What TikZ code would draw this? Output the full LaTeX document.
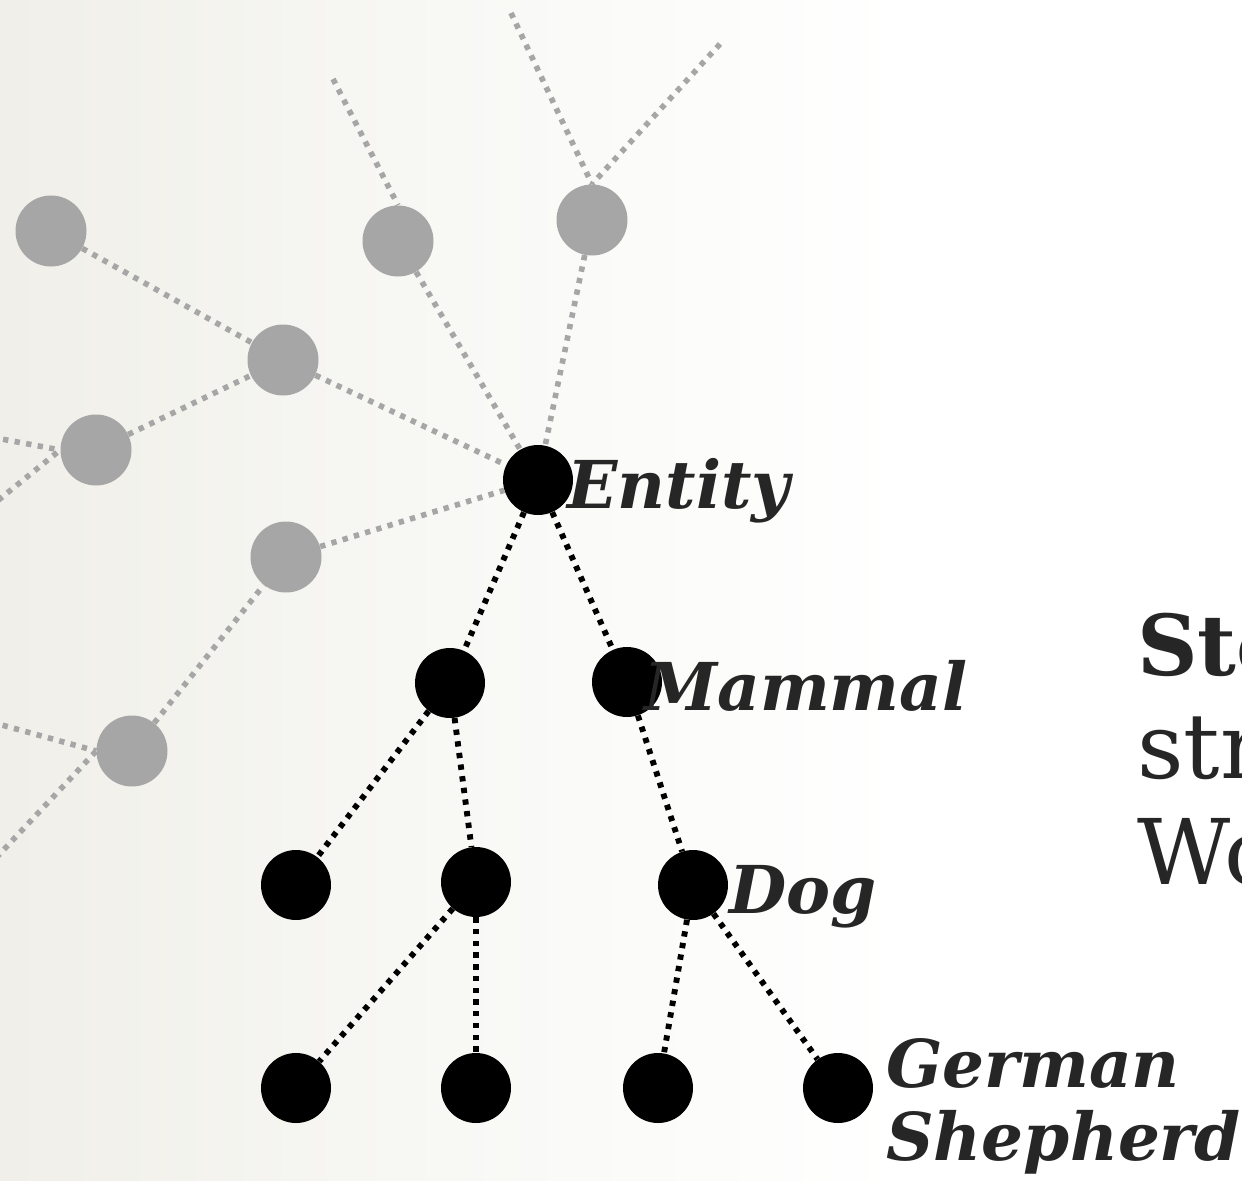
\documentclass[tikz,border=0pt]{standalone}
\usepackage{fontspec}
\setmainfont{DejaVu Serif}
\definecolor{bgleft}{HTML}{F0EFE9}
\definecolor{bgmid}{HTML}{F8F8F5}
\definecolor{faded}{HTML}{A6A6A6}
\definecolor{ink}{HTML}{262626}
\tikzset{
  faint/.style={circle, fill=faded, minimum size=53.25pt, inner sep=0pt},
  solid node/.style={circle, fill=black, minimum size=52.5pt, inner sep=0pt},
  faint link/.style={draw=faded, line width=4.2pt, dash pattern=on 4pt off 4.8pt},
  solid link/.style={draw=black, line width=4.4pt, dash pattern=on 4pt off 4.8pt},
  term/.style={anchor=base west, inner sep=0pt, text=ink,
    font=\fontsize{49.5pt}{54.75pt}\selectfont\bfseries\itshape},
  side/.style={anchor=base west, inner sep=0pt, text=ink}
}
\begin{document}
\begin{tikzpicture}[x=0.75pt, y=-0.75pt]
\useasboundingbox (0,0) rectangle (1242,1181);
\clip (0,0) rectangle (1242,1181);
% background wash
\fill[white] (0,0) rectangle (1242,1181);
\shade[left color=bgleft, right color=white, middle color=bgmid] (0,0) rectangle (900,1181);

% loose ends of the faint outer branches
\coordinate (e1) at (-20,435);
\coordinate (e2) at (-20,515);
\coordinate (e3) at (-20,719);
\coordinate (e4) at (-20,875);
\coordinate (e5) at (333,79);
\coordinate (e6) at (511,13);
\coordinate (e7) at (720,44);

% faint outer nodes
\node[faint] (g1) at (51,231) {};
\node[faint] (g2) at (398,241) {};
\node[faint] (g3) at (592,220) {};
\node[faint] (g4) at (283,360) {};
\node[faint] (g5) at (96,450) {};
\node[faint] (g6) at (286,557) {};
\node[faint] (g7) at (132,751) {};

% main hierarchy
\node[solid node] (entity) at (538,480) {};
\node[solid node] (b1) at (450,683) {};
\node[solid node] (mammal) at (627,682) {};
\node[solid node] (c1) at (296,885) {};
\node[solid node] (c2) at (476,882) {};
\node[solid node] (dog) at (693,885) {};
\node[solid node] (d1) at (296,1088) {};
\node[solid node] (d2) at (476,1088) {};
\node[solid node] (d3) at (658,1088) {};
\node[solid node] (gs) at (838,1088) {};

% faint links
\path[faint link] (e1) -- (g5.west);
\path[faint link] (e2) -- (g5.west);
\path[faint link] (e3) -- (g7.west);
\path[faint link] (e4) -- (g7.west);
\path[faint link] (e5) -- (g2.north);
\path[faint link] (e6) -- (g3.north);
\path[faint link] (e7) -- (g3.north);
\path[faint link] (g1) -- (g4);
\path[faint link] (g5) -- (g4);
\path[faint link] (g4) -- (entity);
\path[faint link] (g2) -- (entity);
\path[faint link] (g3) -- (entity);
\path[faint link] (g6) -- (entity);
\path[faint link] (g7) -- (g6);

% solid links
\path[solid link] (entity) -- (b1);
\path[solid link] (entity) -- (mammal);
\path[solid link] (b1) -- (c1);
\path[solid link] (b1) -- (c2);
\path[solid link] (mammal) -- (dog);
\path[solid link] (c2) -- (d1);
\path[solid link] (c2) -- (d2);
\path[solid link] (dog) -- (d3);
\path[solid link] (dog) -- (gs);

% labels
\node[term] (lentity) at (567,508) {Entity};
\node[term] (lmammal) at (644,710) {Mammal};
\node[term] (ldog) at (729,913) {Dog};
\node[term, align=left] (lgs) at (886,1160) {German\\Shepherd};

% side text
\node[side, font=\fontsize{63pt}{77pt}\selectfont\bfseries] (s1) at (1137,675) {Sto};
\node[side, font=\fontsize{68pt}{77pt}\selectfont] (s2) at (1137,778) {str};
\node[side, font=\fontsize{68pt}{77pt}\selectfont] (s3) at (1137,884) {Wo};
\end{tikzpicture}
\end{document}
